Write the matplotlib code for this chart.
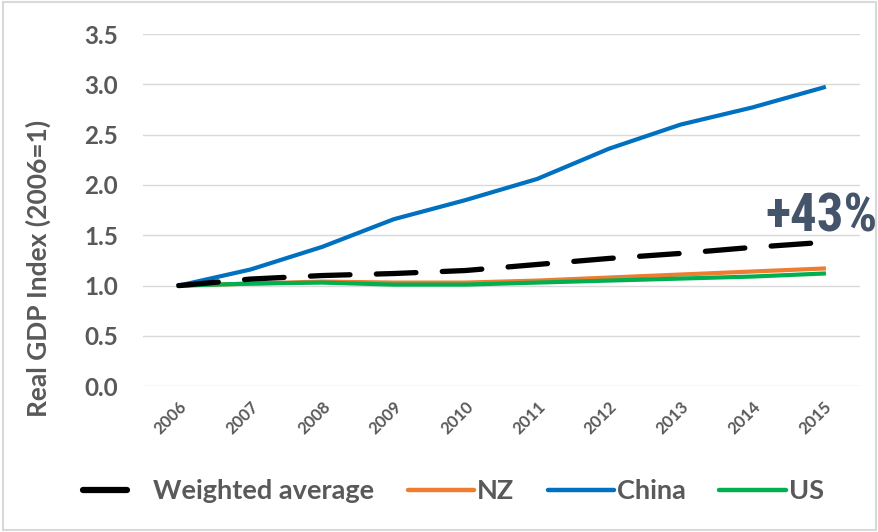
import matplotlib
matplotlib.use("Agg")
from matplotlib import pyplot as plt
from matplotlib.lines import Line2D
from matplotlib.legend_handler import HandlerLine2D
from matplotlib.patches import Rectangle
from matplotlib import font_manager

# data
years = ["2006", "2007", "2008", "2009", "2010", "2011", "2012", "2013", "2014", "2015"]
weighted = [1.00, 1.065, 1.10, 1.12, 1.15, 1.21, 1.27, 1.32, 1.38, 1.43]
nz = [1.00, 1.02, 1.04, 1.03, 1.03, 1.05, 1.08, 1.11, 1.14, 1.17]
china = [1.00, 1.16, 1.385, 1.66, 1.85, 2.06, 2.36, 2.60, 2.77, 2.97]
us = [1.00, 1.02, 1.03, 1.01, 1.01, 1.03, 1.05, 1.07, 1.09, 1.12]
yticks = [0.0, 0.5, 1.0, 1.5, 2.0, 2.5, 3.0, 3.5]
series_names = ['Weighted average', 'NZ', 'China', 'US']

grey = '#595959'
plt.rcParams['font.family'] = ['Lato', 'DejaVu Sans']

# narrow face for the callout if one is around
names = {f.name for f in font_manager.fontManager.ttflist}
narrow = [n for n in ['Liberation Sans Narrow', 'Roboto Condensed', 'Open Sans Condensed',
                      'DejaVu Sans Condensed'] if n in names]
callout_family = narrow + ['Liberation Sans', 'DejaVu Sans']


class ShortHandle(HandlerLine2D):
    # Excel draws the dashed series as a shorter solid stub in the legend
    def __init__(self, frac, **kw):
        super().__init__(**kw)
        self.frac = frac

    def create_artists(self, legend, orig, xdescent, ydescent, width, height, fontsize, trans):
        y = height / 2 - ydescent
        ln = Line2D([-xdescent, -xdescent + width * self.frac], [y, y],
                    color='black', lw=4.5, linestyle='-', solid_capstyle='round')
        ln.set_transform(trans)
        return [ln]


fig = plt.figure(figsize=(8.79, 5.32), dpi=100)
ax = fig.add_axes([0.1627, 0.274, 0.8153, 0.662])

x = list(range(len(years)))
ax.plot(x, weighted, color='black', lw=3.8, dashes=(7.5, 5), dash_capstyle='round', zorder=3)
ax.plot(x, nz, color='#ED7D31', lw=3, zorder=2)
ax.plot(x, china, color='#0070C0', lw=3, zorder=2)
ax.plot(x, us, color='#00B050', lw=3, zorder=2)

ax.set_xlim(-0.5, len(years) - 0.5)
ax.set_ylim(0, 3.5)
ax.set_yticks(yticks)
ax.set_yticklabels(['%.1f' % v for v in yticks], fontsize=17.5, fontweight='bold', color=grey)
ax.set_xticks(x)
ax.set_xticklabels(years, rotation=45, ha='right', rotation_mode='anchor',
                   fontsize=12, fontweight='bold', color=grey)
ax.tick_params(length=0, axis='y', pad=18)
ax.tick_params(length=0, axis='x', pad=9)
ax.grid(axis='y', color='#D9D9D9', lw=1)
ax.set_axisbelow(True)
for s in ax.spines.values():
    s.set_visible(False)

ax.set_ylabel('Real GDP Index (2006=1)', fontsize=19, fontweight='bold', color=grey)
ax.yaxis.set_label_coords(-0.128, 0.335)

fig.text(0.999, 1 - 231 / 532, '+43%', ha='right', va='baseline', fontsize=38,
         fontweight='bold', color='#44546A', family=callout_family)

handles = [Line2D([], [], color='black', lw=4.5, linestyle='-'),
           Line2D([], [], color='#ED7D31', lw=3.2, solid_capstyle='round'),
           Line2D([], [], color='#0070C0', lw=3.2, solid_capstyle='round'),
           Line2D([], [], color='#00B050', lw=3.2, solid_capstyle='round')]
leg = fig.legend(handles, series_names, loc='center',
                 bbox_to_anchor=(0.5 + 14 / 879, 1 - 491 / 532),
                 ncol=4, frameon=False, fontsize=19.5, handlelength=2.45, handletextpad=0.1,
                 columnspacing=1.25, handler_map={handles[0]: ShortHandle(0.66)})
for t in leg.get_texts():
    t.set_color(grey)
    t.set_fontweight('bold')

fig.patches.append(Rectangle((0.003, 0.004), 0.994, 0.992, transform=fig.transFigure,
                             fill=False, edgecolor='#D9D9D9', lw=1.5))

fig.savefig('out.png', dpi=100)
